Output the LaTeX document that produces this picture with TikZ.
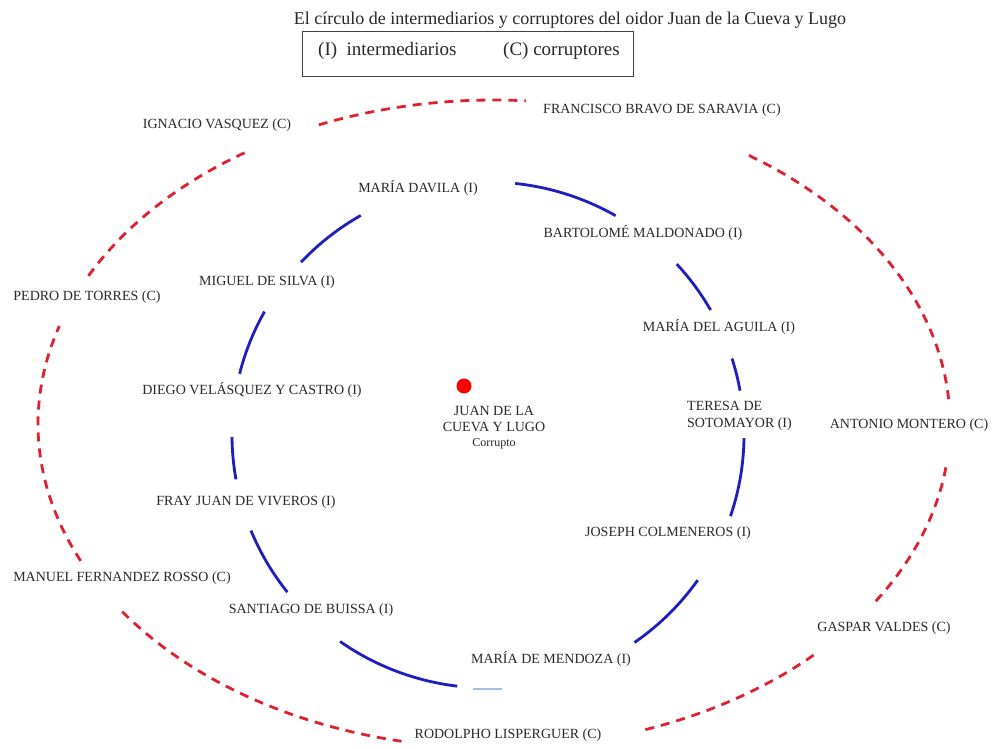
\documentclass[tikz,border=0pt]{standalone}
\usepackage{fontspec}
\setmainfont{Liberation Serif}
\definecolor{redc}{RGB}{222,32,48}
\definecolor{bluec}{RGB}{30,30,190}
\definecolor{faintblue}{RGB}{170,190,225}
\definecolor{txt}{RGB}{40,40,40}
\begin{document}
\begin{tikzpicture}[x=1pt,y=-1pt,
  lbl/.style={font=\fontsize{14}{17}\selectfont, text=txt, inner sep=0pt},
  legtext/.style={font=\fontsize{19}{21}\selectfont, text=txt, inner sep=0pt},
  redarc/.style={draw=redc, line width=2.8pt, dash pattern=on 9pt off 7pt},
  bluearc/.style={draw=bluec, line width=2.8pt}]
\useasboundingbox[fill=white] (0,0) rectangle (996,749);

% title and legend
\node[font=\fontsize{18}{20}\selectfont, text=txt, anchor=base, inner sep=0pt] (title) at (570,25)
  {El círculo de intermediarios y corruptores del oidor Juan de la Cueva y Lugo};
\node[draw=black!75, line width=1.2pt, minimum width=331pt, minimum height=45pt, anchor=north west, inner sep=0pt] (legend) at (302,31) {};
\node[legtext, anchor=base west] (legI) at (318,56) {(I)\ \ intermediarios};
\node[legtext, anchor=base west] (legC) at (503,56) {(C) corruptores};

% centre
\node[circle, fill=red, inner sep=0pt, minimum size=15pt] (dot) at (464,386) {};
\node[lbl, align=center, font=\fontsize{14}{15.5}\selectfont] (juan) at (494,428)
  {JUAN DE LA\\CUEVA Y LUGO\\{\fontsize{12}{14}\selectfont Corrupto}};

% intermediarios
\node[lbl] (davila) at (418,188) {MARÍA DAVILA (I)};
\node[lbl] (maldonado) at (643,233) {BARTOLOMÉ MALDONADO (I)};
\node[lbl] (silva) at (267,282) {MIGUEL DE SILVA (I)};
\node[lbl] (aguila) at (719,327) {MARÍA DEL AGUILA (I)};
\node[lbl] (diego) at (252,390) {DIEGO VELÁSQUEZ Y CASTRO (I)};
\node[lbl, align=left, anchor=west] (teresa) at (687,416) {TERESA DE\\SOTOMAYOR (I)};
\node[lbl] (viveros) at (246,502) {FRAY JUAN DE VIVEROS (I)};
\node[lbl] (joseph) at (668,533) {JOSEPH COLMENEROS (I)};
\node[lbl] (santiago) at (311,610) {SANTIAGO DE BUISSA (I)};
\node[lbl] (mendoza) at (551,659) {MARÍA DE MENDOZA (I)};

% corruptores
\node[lbl] (ignacio) at (217,125) {IGNACIO VASQUEZ (C)};
\node[lbl] (francisco) at (662,110) {FRANCISCO BRAVO DE SARAVIA (C)};
\node[lbl] (pedro) at (87,297) {PEDRO DE TORRES (C)};
\node[lbl] (antonio) at (909,425) {ANTONIO MONTERO (C)};
\node[lbl] (manuel) at (122,578) {MANUEL FERNANDEZ ROSSO (C)};
\node[lbl] (gaspar) at (884,628) {GASPAR VALDES (C)};
\node[lbl] (rodolpho) at (508,735) {RODOLPHO LISPERGUER (C)};

% inner (blue) circle of intermediarios
\foreach \a/\b in {-83.9/-60.1, -42.5/-29.6, -17.6/-10.1, 0.7/18.7, 35/55.1,
                   96.9/125.3, 141.6/157.8, 169.9/179.5, 194/209.2, 223.1/240.2}
  \draw[bluearc] plot[domain=\a:\b, samples=30, smooth] ({488+256*cos(\x)},{435+253*sin(\x)});
\draw[faintblue, line width=1.6pt] (473,689) -- (502,689);

% outer (red dashed) circle of corruptores
\foreach \a/\b in {-112.6/-86, -56/-4, 7.7/33.2, 45.5/71.1, 101.7/145.2,
                   155/197.6, 207.2/236.9}
  \draw[redarc] plot[domain=\a:\b, samples=40, smooth] ({494+456*cos(\x)},{424+324*sin(\x)});
\end{tikzpicture}
\end{document}
